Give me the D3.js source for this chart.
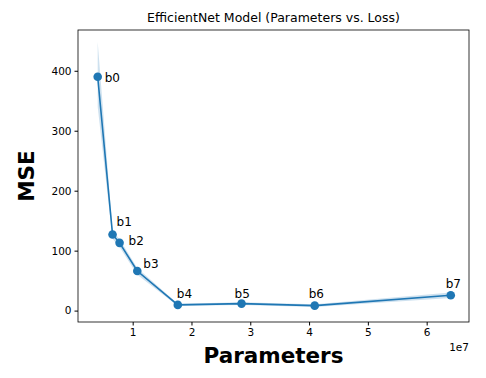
<!DOCTYPE html>
<meta charset="utf-8">
<head>
    <style>
        body {margin: 0; background: #fff;}
        text {font-family: "DejaVu Sans", sans-serif; fill: #000;}
        .tick text {font-size: 10.5px;}
        .domain, .tick line {stroke: #000;}
    </style>
    <script src="https://d3js.org/d3.v7.min.js"></script>
</head>
<body>
<script>

    // chart values
    var models = ["b0", "b1", "b2", "b3", "b4", "b5", "b6", "b7"],
        params = [4049571, 6575239, 7768569, 10783535, 17673823, 28513527, 40960143, 64097687],
        mse = [390, 127, 113, 66, 9.5, 11.7, 8.3, 25.7],
        mseLow = [340, 120, 106, 60, 7.5, 9.5, 6, 21],
        mseHigh = [448, 133, 119, 71, 11.5, 14, 10.5, 30],
        xTicks = [1e7, 2e7, 3e7, 4e7, 5e7, 6e7],
        yTicks = [0, 100, 200, 300, 400];

    // label nudges (px, baseline) so the b-labels sit like the original
    var labelOffsets = [[7, 5], [4, -8], [9, 2], [6, -3], [-1, -7], [-7, -6], [-6, -8], [-5, -7]];

    var margin = {top: 30, right: 17, bottom: 56, left: 78},
        width = 486 - margin.left - margin.right,
        height = 378 - margin.top - margin.bottom;

    var x = d3.scaleLinear()
        .domain([0.7e6, 67.2e6])
        .range([0, width]);

    var y = d3.scaleLinear()
        .domain([-19, 468])
        .range([height, 0]);

    var svg = d3.select("body").append("svg")
        .attr("width", 486)
        .attr("height", 378)
      .append("g")
        .attr("transform", "translate(" + margin.left + "," + margin.top + ")")

    var data = models.map(function(m, i) {
        return {name: m, x: params[i], y: mse[i], lo: mseLow[i], hi: mseHigh[i], off: labelOffsets[i]};
    });

    // confidence band
    svg.append("path")
        .datum(data)
        .attr("fill", "#1f77b4")
        .attr("fill-opacity", 0.22)
        .attr("d", d3.area()
            .x(function(d) {return x(d.x)})
            .y0(function(d) {return y(d.lo)})
            .y1(function(d) {return y(d.hi)}))

    svg.append("path")
        .datum(data)
        .attr("fill", "none")
        .attr("stroke", "#1f77b4")
        .attr("stroke-width", 1.6)
        .attr("d", d3.line()
            .x(function(d) {return x(d.x)})
            .y(function(d) {return y(d.y)}))

    svg.selectAll("circle")
        .data(data)
      .enter().append("circle")
        .attr("cx", function(d) {return x(d.x)})
        .attr("cy", function(d) {return y(d.y)})
        .attr("r", 4.3)
        .attr("fill", "#1f77b4")

    svg.selectAll(".lbl")
        .data(data)
      .enter().append("text")
        .attr("class", "lbl")
        .attr("x", function(d) {return x(d.x) + d.off[0]})
        .attr("y", function(d) {return y(d.y) + d.off[1]})
        .style("font-size", "12px")
        .text(function(d) {return d.name})

    // axes
    svg.append("g")
        .attr("transform", "translate(0," + height + ")")
        .call(d3.axisBottom(x).tickValues(xTicks).tickSize(3.5).tickPadding(3)
            .tickFormat(function(d) {return d / 1e7}))

    svg.append("g")
        .call(d3.axisLeft(y).tickValues(yTicks).tickSize(3.5).tickPadding(3))

    svg.selectAll(".domain").remove();

    svg.append("rect")
        .attr("width", width)
        .attr("height", height)
        .attr("fill", "none")
        .attr("stroke", "#000")
        .attr("stroke-width", 0.8)

    // titles
    svg.append("text")
        .attr("x", width / 2)
        .attr("y", -8)
        .attr("text-anchor", "middle")
        .style("font-size", "12.5px")
        .text("EfficientNet Model (Parameters vs. Loss)")

    svg.append("text")
        .attr("x", width / 2)
        .attr("y", height + 41)
        .attr("text-anchor", "middle")
        .style("font-size", "21.5px")
        .style("font-weight", "bold")
        .text("Parameters")

    svg.append("text")
        .attr("transform", "translate(-44," + (height / 2) + ") rotate(-90)")
        .attr("text-anchor", "middle")
        .style("font-size", "21.5px")
        .style("font-weight", "bold")
        .text("MSE")

    svg.append("text")
        .attr("x", width)
        .attr("y", height + 29)
        .attr("text-anchor", "end")
        .style("font-size", "10.5px")
        .text("1e7")

</script>
</body>
